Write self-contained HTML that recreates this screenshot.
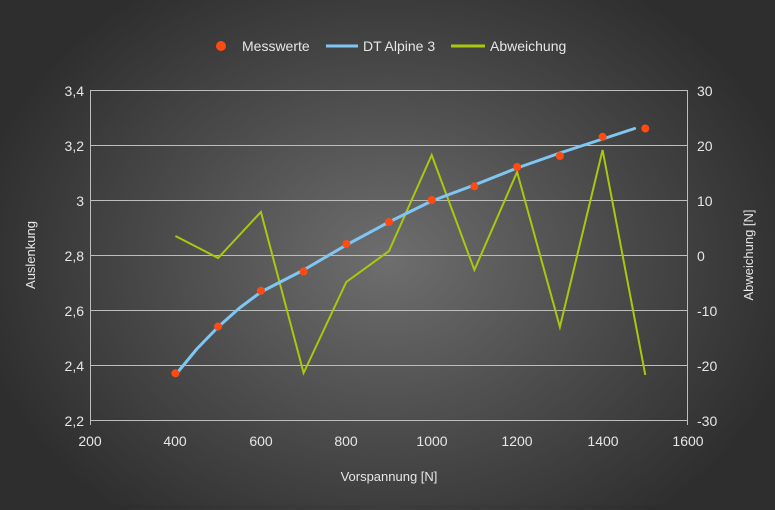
<!DOCTYPE html>
<html><head><style>
html,body{margin:0;padding:0}
body{width:775px;height:505px;overflow:hidden;background:radial-gradient(ellipse 420px 330px at 388px 260px,#6e6e6e 0%,#4a4a4a 55%,#2e2e2e 100%);font-family:"Liberation Sans",sans-serif}
</style></head><body>
<svg width="775" height="505" xmlns="http://www.w3.org/2000/svg" font-family="Liberation Sans, sans-serif">
<g stroke="#bdbdbd" stroke-width="1">
<line x1="90" y1="90.5" x2="688" y2="90.5"/>
<line x1="90" y1="145.5" x2="688" y2="145.5"/>
<line x1="90" y1="200.5" x2="688" y2="200.5"/>
<line x1="90" y1="255.5" x2="688" y2="255.5"/>
<line x1="90" y1="310.5" x2="688" y2="310.5"/>
<line x1="90" y1="365.5" x2="688" y2="365.5"/>
<line x1="90" y1="420.5" x2="688" y2="420.5"/>
<line x1="90.5" y1="90" x2="90.5" y2="425"/>
<line x1="687.5" y1="90" x2="687.5" y2="425"/>
</g>
<g fill="#e6e6e6" font-size="14" text-anchor="end">
<text x="84" y="96">3,4</text><text x="84" y="151">3,2</text><text x="84" y="206">3</text>
<text x="84" y="261">2,8</text><text x="84" y="316">2,6</text><text x="84" y="371">2,4</text><text x="84" y="426">2,2</text>
</g>
<g fill="#e6e6e6" font-size="14" text-anchor="start">
<text x="697" y="96">30</text><text x="697" y="151">20</text><text x="697" y="206">10</text>
<text x="697" y="261">0</text><text x="697" y="316">-10</text><text x="697" y="371">-20</text><text x="697" y="426">-30</text>
</g>
<g fill="#e6e6e6" font-size="14" text-anchor="middle">
<text x="90" y="446">200</text><text x="175" y="446">400</text><text x="261" y="446">600</text><text x="346" y="446">800</text>
<text x="432" y="446">1000</text><text x="517" y="446">1200</text><text x="603" y="446">1400</text><text x="688" y="446">1600</text>
<text x="389" y="481" font-size="13">Vorspannung [N]</text>
</g>
<text transform="translate(35,255) rotate(-90)" fill="#e6e6e6" font-size="13" text-anchor="middle">Auslenkung</text>
<text transform="translate(753,255) rotate(-90)" fill="#e6e6e6" font-size="13" text-anchor="middle">Abweichung [N]</text>
<polyline fill="none" stroke="#a9c80e" stroke-width="2" stroke-linejoin="miter" points="175.4,236 218.1,258 260.9,212 303.6,373 346.3,282 389,251 431.7,155 474.4,270 517.1,172 559.9,327 602.6,150 645.3,375"/>
<polyline fill="none" stroke="#80c6f2" stroke-width="3" stroke-linejoin="round" stroke-linecap="round" points="175.4,375 196.8,349 218.1,327 239.5,308 260.9,292 303.6,270 346.3,245 389,222 431.7,201 474.4,185 517.1,168 559.9,153 602.6,139 634.6,128.5"/>
<g fill="#ff4a12">
<circle cx="175.4" cy="373.3" r="4"/><circle cx="218.1" cy="326.5" r="4"/><circle cx="260.9" cy="290.8" r="4"/>
<circle cx="303.6" cy="271.5" r="4"/><circle cx="346.3" cy="244" r="4"/><circle cx="389" cy="222" r="4"/>
<circle cx="431.7" cy="200" r="4"/><circle cx="474.4" cy="186.3" r="4"/><circle cx="517.1" cy="167" r="4"/>
<circle cx="559.9" cy="156" r="4"/><circle cx="602.6" cy="136.8" r="4"/><circle cx="645.3" cy="128.5" r="4"/>
</g>
<circle cx="221" cy="46" r="5" fill="#ff4a12"/>
<text x="242" y="51" fill="#e6e6e6" font-size="14">Messwerte</text>
<line x1="326" y1="46" x2="358" y2="46" stroke="#80c6f2" stroke-width="3"/>
<text x="363" y="51" fill="#e6e6e6" font-size="14">DT Alpine 3</text>
<line x1="451" y1="46" x2="485" y2="46" stroke="#a9c80e" stroke-width="3"/>
<text x="490" y="51" fill="#e6e6e6" font-size="14">Abweichung</text>
</svg>
</body></html>
